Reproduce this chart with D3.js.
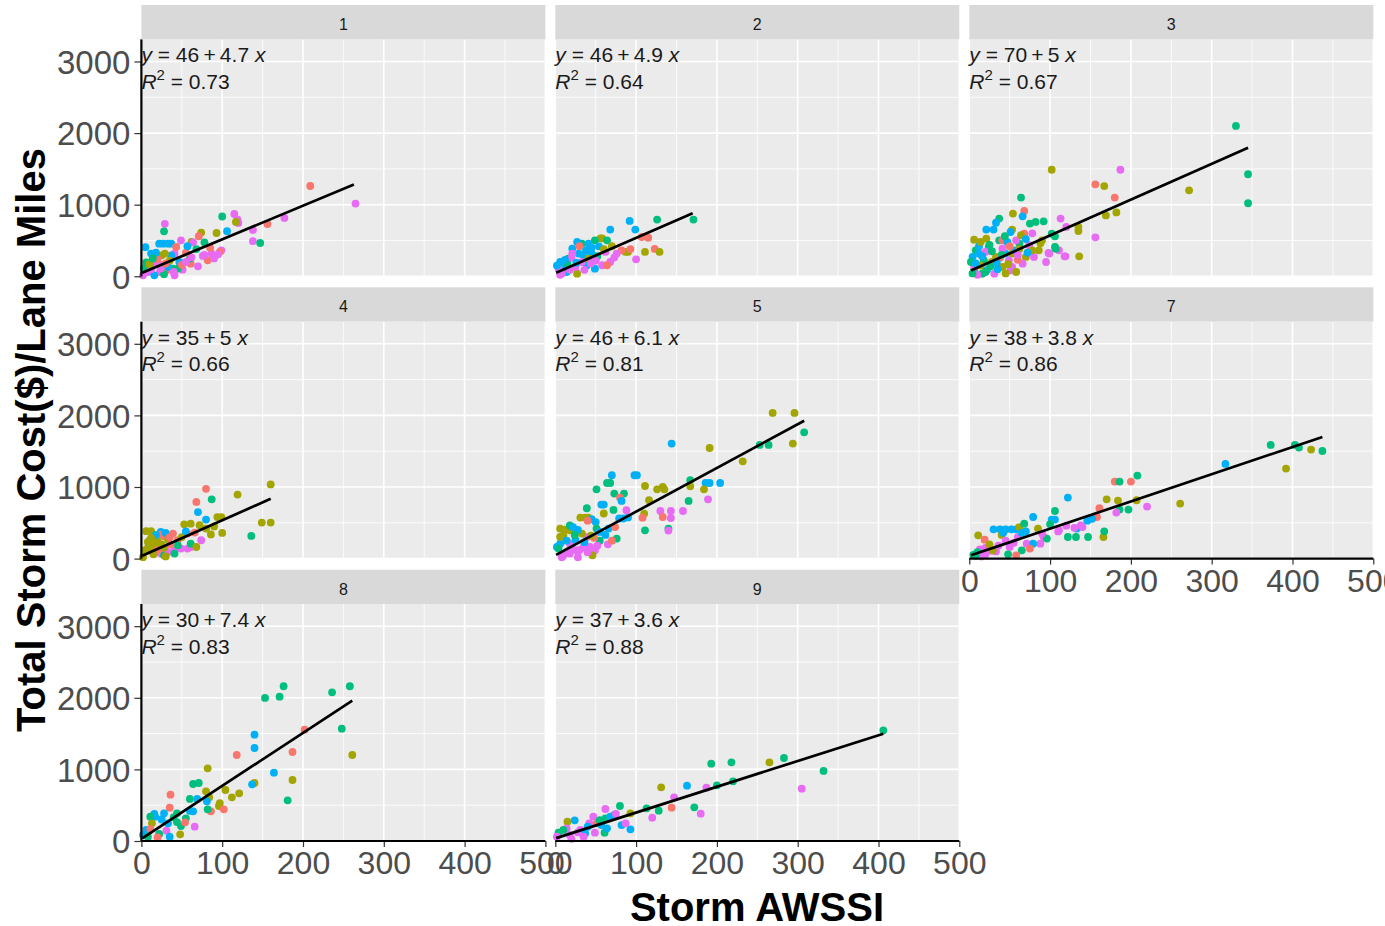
<!DOCTYPE html>
<html>
<head>
<meta charset="utf-8">
<script src="https://cdn.jsdelivr.net/npm/d3@7"></script>
<style>
  body { margin: 0; background: #fff; }
  svg { display: block; font-family: "Liberation Sans", Arial, sans-serif; }
</style>
</head>
<body>
<div id="chart"></div>
<script>
// facet labels, in facet_wrap order
const facets = ["1", "2", "3", "4", "5", "7", "8", "9"];
const intercepts = [46, 46, 70, 35, 46, 38, 30, 37];
const slopes = ["4.7", "4.9", "5", "5", "6.1", "3.8", "7.4", "3.6"];
const r2 = ["0.73", "0.64", "0.67", "0.66", "0.81", "0.86", "0.83", "0.88"];
const fitFrom = [1, 1, 2, 1, 1, 2, 1, 1];
const fitTo = [263, 170, 345, 160, 308, 437, 261, 406];
const xTicks = [0, 100, 200, 300, 400, 500];
const yTicks = [0, 1000, 2000, 3000];
const groupColors = ["#F8766D", "#A3A500", "#00BF7D", "#00B0F6", "#E76BF3"];

// points: [Storm AWSSI, cost per lane mile, group]
const p1 = [[265,1015,4],[209,1261,0],[177,815,4],[156,730,0],[138,645,4],[138,490,4],[147,465,2],[115,870,4],[119,790,4],[120,745,4],[117,760,1],[100,835,2],[106,630,3],[93,605,1],[74,610,1],[78,475,2],[29,733,4],[28,628,2],[22,455,3],[27,455,3],[33,455,3],[37,455,3],[5,407,3],[12,318,3],[25,293,1],[49,503,4],[62,480,1],[64,475,4],[71,559,0],[99,363,4],[97,342,0],[95,307,4],[82,224,0],[76,285,4],[61,177,0],[51,93,4],[41,317,4],[43,409,0],[39,107,2],[25,154,4],[37,293,3],[47,200,3],[60,247,2],[62,265,4],[29,317,1],[16,177,4],[8,60,4],[6,195,2],[23,60,4],[31,84,0],[16,14,3],[41,14,4],[2,14,4],[45,107,2],[33,130,3],[87,317,4],[78,300,4],[55,330,0],[68,380,2],[20,240,0],[12,100,4],[35,220,1],[50,160,0],[85,400,0],[90,250,4],[70,140,4],[28,30,2],[3,110,2],[18,330,3],[57,420,3],[10,170,1],[24,110,4],[14,250,2],[30,180,0],[40,60,4],[55,200,4]];
const p2 = [[171,792,2],[126,792,2],[92,773,3],[68,652,3],[99,652,3],[107,549,0],[115,540,0],[123,382,0],[129,340,1],[111,340,1],[87,340,1],[90,340,1],[93,380,0],[100,237,4],[73,261,4],[56,530,1],[58,530,1],[64,503,2],[49,503,2],[33,457,2],[27,480,3],[21,387,3],[54,419,3],[41,457,3],[45,317,3],[35,293,3],[29,317,3],[16,247,2],[6,200,3],[10,130,3],[21,317,4],[62,340,4],[68,200,4],[58,154,4],[64,154,0],[49,107,3],[27,37,1],[14,60,3],[25,130,4],[4,107,4],[39,154,3],[82,363,0],[76,317,4],[41,247,1],[33,200,4],[45,400,3],[52,280,2],[60,380,1],[15,180,2],[8,40,4],[36,90,4],[70,420,1],[30,420,0],[20,260,4],[50,220,4],[2,150,3],[12,230,3],[26,190,3],[38,360,3],[18,90,4],[44,180,4],[6,20,4]];
const p3 = [[330,2100,2],[345,1425,2],[345,1020,2],[272,1201,1],[187,1488,4],[102,1488,1],[156,1285,0],[167,1260,1],[180,1099,0],[169,850,1],[182,892,1],[156,545,4],[135,633,1],[135,689,1],[136,279,1],[113,806,4],[120,689,4],[64,1099,2],[68,912,0],[54,876,1],[66,838,3],[37,806,2],[33,748,3],[21,652,3],[30,652,3],[6,512,1],[21,526,1],[75,736,2],[82,759,2],[92,768,2],[68,596,0],[78,600,4],[102,596,2],[106,559,2],[98,326,4],[111,363,4],[119,279,4],[106,409,2],[86,363,1],[80,270,4],[90,503,1],[53,652,1],[51,619,3],[37,503,2],[41,503,0],[47,480,3],[24,409,3],[8,363,2],[4,270,3],[12,316,3],[18,223,2],[20,340,4],[33,270,1],[45,316,3],[41,385,4],[62,457,2],[58,503,4],[64,573,1],[74,435,4],[78,363,1],[70,270,1],[66,177,4],[53,316,1],[57,363,3],[49,223,4],[6,84,2],[6,130,4],[16,37,2],[31,37,4],[41,130,1],[53,130,4],[51,84,4],[99,316,4],[107,385,2],[118,279,4],[28,200,1],[14,150,1],[35,100,3],[25,440,2],[44,560,2],[60,230,0],[72,330,3],[88,460,1],[95,200,4],[10,20,4],[22,90,3],[45,40,1],[58,60,1],[38,260,0],[2,200,2],[70,520,3],[12,420,3],[28,350,2],[40,300,2],[16,280,3],[50,420,0],[62,380,1],[8,180,3],[26,140,2],[34,190,3],[20,60,2],[4,40,2],[48,170,1],[14,480,1],[60,300,4]];
const p4 = [[160,1036,1],[80,975,0],[119,894,1],[87,828,2],[68,791,0],[70,650,3],[80,545,3],[99,580,1],[94,580,1],[149,503,1],[160,503,1],[136,316,2],[100,358,1],[86,338,1],[53,479,1],[61,488,1],[72,466,1],[6,383,1],[12,383,1],[24,372,3],[39,349,0],[24,335,0],[28,312,0],[57,349,0],[74,256,4],[61,162,4],[57,140,4],[49,140,4],[41,116,4],[24,70,4],[28,46,2],[16,186,1],[8,232,1],[4,116,1],[20,242,1],[33,265,1],[45,256,0],[45,186,2],[66,363,0],[61,209,2],[68,162,1],[33,93,4],[41,70,2],[18,330,3],[30,360,3],[12,290,1],[2,20,1],[15,60,1],[50,300,1],[36,200,0],[55,380,3],[28,150,1],[90,450,1],[80,420,1],[8,150,1],[20,120,0],[10,250,1],[25,200,1],[35,300,0],[14,90,1],[30,30,1]];
const p5 = [[269,2034,1],[296,2034,1],[308,1764,2],[294,1606,1],[264,1587,2],[253,1587,2],[232,1359,1],[191,1545,1],[144,1606,3],[186,1056,3],[191,1056,3],[204,1056,3],[167,1094,2],[167,1010,1],[184,968,1],[189,828,4],[165,805,2],[158,665,4],[143,665,4],[143,567,4],[130,665,4],[133,581,0],[140,419,2],[140,391,4],[111,395,2],[111,1014,1],[101,1164,3],[98,1164,3],[126,968,1],[133,1000,1],[135,968,1],[116,815,1],[110,629,1],[108,572,0],[70,1164,3],[68,1056,2],[64,1056,2],[51,968,2],[73,908,2],[85,908,2],[80,852,0],[82,805,3],[57,754,3],[60,754,3],[39,703,2],[72,680,2],[31,573,1],[37,573,1],[41,573,1],[6,419,1],[12,405,1],[18,395,1],[79,560,3],[84,560,3],[90,575,3],[88,675,4],[45,550,3],[50,510,3],[66,419,3],[74,440,0],[76,279,2],[39,300,4],[35,162,4],[43,162,4],[49,116,4],[26,116,4],[18,70,4],[10,46,4],[6,209,3],[2,162,3],[18,209,4],[4,140,2],[46,46,1],[33,349,1],[51,419,2],[55,372,3],[10,325,1],[18,464,2],[6,304,1],[40,530,0],[60,630,1],[25,260,3],[30,120,4],[15,100,4],[55,250,2],[65,200,4],[22,440,3],[48,290,0],[8,20,4],[28,20,4],[14,250,3],[36,230,3],[28,400,3],[44,320,1],[20,150,4],[52,180,4],[40,90,4],[62,330,3],[70,250,0],[24,330,2]];
const p7 = [[373,1587,2],[403,1587,2],[408,1551,2],[423,1523,1],[437,1503,2],[392,1257,1],[317,1322,3],[261,768,1],[220,726,4],[208,1159,2],[200,1076,0],[180,1076,0],[186,1076,2],[170,828,1],[184,810,1],[207,815,1],[197,684,2],[186,684,2],[182,643,4],[161,703,0],[158,581,0],[122,852,3],[106,665,2],[102,545,3],[106,545,3],[79,581,3],[122,302,2],[132,302,2],[147,302,2],[166,302,1],[167,381,2],[133,419,3],[138,465,4],[146,530,3],[152,555,3],[30,409,3],[38,409,3],[45,409,3],[52,409,3],[58,409,3],[11,325,1],[19,265,0],[13,130,4],[20,150,4],[27,110,4],[33,100,4],[71,209,4],[88,209,4],[92,302,4],[79,209,3],[96,279,2],[65,116,2],[75,140,0],[58,46,0],[111,395,4],[62,440,1],[68,488,2],[50,163,4],[29,116,1],[40,330,1],[85,420,1],[100,480,2],[120,460,4],[130,430,4],[60,300,4],[45,250,4],[5,50,2],[10,90,2],[70,380,3],[90,350,4],[25,200,1],[110,380,4],[140,440,4],[15,30,4],[48,60,2],[36,180,4],[55,220,4],[42,360,3],[65,360,3],[20,60,4],[8,40,2]];
const p8 = [[176,2161,2],[258,2161,2],[236,2077,2],[153,1998,2],[171,2016,2],[248,1569,2],[261,1201,1],[187,1243,0],[202,1555,0],[140,1485,3],[140,1299,3],[118,1201,0],[164,954,3],[187,852,1],[181,568,2],[82,1015,1],[140,810,1],[137,792,3],[104,712,1],[121,666,1],[112,610,1],[97,527,1],[96,489,1],[102,443,0],[86,415,0],[64,796,2],[71,810,2],[60,587,2],[80,694,1],[84,610,1],[69,587,3],[81,555,3],[82,443,2],[36,647,0],[35,465,0],[64,415,3],[66,200,4],[48,93,1],[31,144,4],[35,60,3],[49,209,2],[44,265,2],[44,387,2],[28,387,3],[16,377,3],[17,340,3],[11,340,2],[13,247,1],[6,154,3],[2,84,3],[11,167,0],[22,98,2],[20,51,0],[33,247,3],[55,317,2],[54,261,0],[60,420,3],[25,300,3],[40,330,2],[8,60,2]];
const p9 = [[406,1546,2],[332,978,2],[305,731,4],[283,1159,2],[265,1099,1],[218,1099,2],[193,1080,2],[220,834,2],[200,778,2],[187,745,4],[163,773,3],[131,750,1],[147,610,4],[144,465,0],[172,470,2],[180,381,4],[120,326,4],[128,423,2],[113,456,2],[80,489,2],[93,387,1],[62,447,4],[82,223,3],[93,163,3],[87,247,4],[61,116,2],[62,317,2],[64,177,3],[15,270,1],[24,289,3],[47,340,4],[42,247,4],[49,116,4],[51,247,0],[68,340,3],[73,363,3],[57,223,3],[14,177,4],[10,154,2],[31,154,4],[37,107,3],[18,84,4],[4,116,2],[2,60,4],[35,60,4],[75,380,4],[40,200,3],[28,120,4],[55,290,2],[20,30,4]];
const points = [p1, p2, p3, p4, p5, p7, p8, p9];

let width = 1385, height = 926;
let colLeft = [141.4, 555.3, 969.3];
let stripTop = [5, 287.3, 569.7];
let panelW = 404, stripH = 34.3, panelH = 237;

let x = d3.scaleLinear().domain([0, 500]).range([0, panelW]);
let y = d3.scaleLinear().domain([0, 3310]).range([panelH, 0]);

var svg = d3.select('#chart').append('svg')
    .attr('width', width)
    .attr('height', height);

facets.forEach((f, i) => {
    let col = i % 3, row = Math.floor(i / 3);
    let g = svg.append('g')
        .attr('transform', 'translate(' + colLeft[col] + ',' + (stripTop[row] + stripH) + ')');

    // strip
    svg.append('rect')
        .attr('x', colLeft[col]).attr('y', stripTop[row])
        .attr('width', panelW).attr('height', stripH)
        .attr('fill', '#D9D9D9');
    svg.append('text')
        .attr('x', colLeft[col] + panelW / 2).attr('y', stripTop[row] + stripH / 2 + 8)
        .attr('text-anchor', 'middle')
        .attr('font-size', 16).attr('fill', '#1A1A1A')
        .text(f);

    g.append('rect').attr('width', panelW).attr('height', panelH).attr('fill', '#EBEBEB');

    // minor + major grid
    let xMinor = [50, 150, 250, 350, 450], yMinor = [500, 1500, 2500];
    g.selectAll('.xmin').data(xMinor).enter().append('line')
        .attr('x1', d => x(d)).attr('x2', d => x(d)).attr('y1', 0).attr('y2', panelH)
        .attr('stroke', '#fff').attr('stroke-width', 0.8);
    g.selectAll('.ymin').data(yMinor).enter().append('line')
        .attr('y1', d => y(d)).attr('y2', d => y(d)).attr('x1', 0).attr('x2', panelW)
        .attr('stroke', '#fff').attr('stroke-width', 0.8);
    g.selectAll('.xmaj').data(xTicks).enter().append('line')
        .attr('x1', d => x(d)).attr('x2', d => x(d)).attr('y1', 0).attr('y2', panelH)
        .attr('stroke', '#fff').attr('stroke-width', 1.6);
    g.selectAll('.ymaj').data(yTicks).enter().append('line')
        .attr('y1', d => y(d)).attr('y2', d => y(d)).attr('x1', 0).attr('x2', panelW)
        .attr('stroke', '#fff').attr('stroke-width', 1.6);

    // points
    g.selectAll('circle').data(points[i]).enter().append('circle')
        .attr('cx', d => x(d[0])).attr('cy', d => y(d[1]))
        .attr('r', 3.9)
        .attr('fill', d => groupColors[d[2]]);

    // fitted line
    let a = intercepts[i], b = +slopes[i];
    g.append('line')
        .attr('x1', x(fitFrom[i])).attr('y1', y(a + b * fitFrom[i]))
        .attr('x2', x(fitTo[i])).attr('y2', y(a + b * fitTo[i]))
        .attr('stroke', '#000').attr('stroke-width', 2.7);

    // equation labels
    let eq = g.append('text').attr('x', 0).attr('y', 23).attr('font-size', 21).attr('fill', '#1A1A1A');
    eq.append('tspan').attr('font-style', 'italic').text('y');
    eq.append('tspan').text(' = ' + intercepts[i] + '\u2009+\u2009' + slopes[i] + ' ');
    eq.append('tspan').attr('font-style', 'italic').text('x');
    let rr = g.append('text').attr('x', 0).attr('y', 49.5).attr('font-size', 21).attr('fill', '#1A1A1A');
    rr.append('tspan').attr('font-style', 'italic').text('R');
    rr.append('tspan').attr('font-size', 15).attr('dy', -9).text('2');
    rr.append('tspan').attr('dy', 9).text(' = ' + r2[i]);

    // axes
    if (col === 0) {
        let ya = g.append('g').call(d3.axisLeft(y).tickValues(yTicks).tickFormat(d3.format('d')).tickSize(7).tickPadding(4));
        ya.select('.domain').remove();
        ya.selectAll('.tick line').attr('stroke', '#333').attr('stroke-width', 1.2);
        ya.selectAll('.tick text').attr('font-size', 33).attr('fill', '#4D4D4D')
            .attr('font-family', '"Liberation Sans", Arial, sans-serif').attr('dy', '0.36em');
        g.append('line').attr('x1', 0).attr('x2', 0).attr('y1', 0).attr('y2', panelH)
            .attr('stroke', '#000').attr('stroke-width', 2.2);
    }
    if (i >= 5) {
        let xa = g.append('g').attr('transform', 'translate(0,' + panelH + ')')
            .call(d3.axisBottom(x).tickValues(xTicks).tickFormat(d3.format('d')).tickSize(6).tickPadding(3));
        xa.select('.domain').remove();
        xa.selectAll('.tick line').attr('stroke', '#333').attr('stroke-width', 1.2);
        xa.selectAll('.tick text').attr('font-size', 32).attr('fill', '#4D4D4D')
            .attr('font-family', '"Liberation Sans", Arial, sans-serif').attr('dy', '0.75em');
        g.append('line').attr('x1', 0).attr('x2', panelW).attr('y1', panelH).attr('y2', panelH)
            .attr('stroke', '#000').attr('stroke-width', 2.2);
    }
});

svg.append('text')
    .attr('transform', 'translate(45,440) rotate(-90)')
    .attr('text-anchor', 'middle')
    .attr('font-size', 40).attr('font-weight', 'bold').attr('fill', '#000')
    .text('Total Storm Cost($)/Lane Miles');

svg.append('text')
    .attr('x', 757).attr('y', 921)
    .attr('text-anchor', 'middle')
    .attr('font-size', 40).attr('font-weight', 'bold').attr('fill', '#000')
    .text('Storm AWSSI');
</script>
</body>
</html>
